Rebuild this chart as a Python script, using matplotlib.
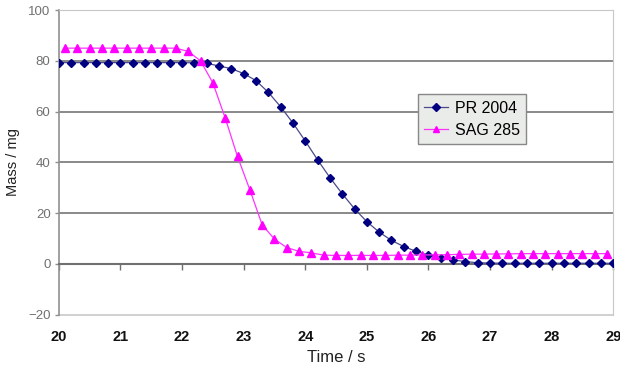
import numpy as np
import matplotlib.pyplot as plt

plt.rcParams['font.family'] = ['Liberation Sans', 'DejaVu Sans']

# PR 2004: every 0.2 s from 20.0 to 29.0
pr_time = np.round(np.arange(20.0, 29.01, 0.2), 1)
pr_mass = [79.3, 79.3, 79.3, 79.3, 79.3, 79.3, 79.3, 79.3, 79.3, 79.3,
           79.3, 79.2, 79.0, 78.0, 76.9, 75.0, 72.2, 67.6, 61.9, 55.5,
           48.4, 41.0, 34.0, 27.6, 21.7, 16.6, 12.5, 9.2, 6.8, 4.9,
           3.4, 2.4, 1.5, 0.9, 0.4, 0.3, 0.2, 0.2, 0.2, 0.2,
           0.2, 0.2, 0.2, 0.2, 0.2, 0.2]

# SAG 285: every 0.2 s from 20.1 to 28.9
sag_time = np.round(np.arange(20.1, 28.91, 0.2), 1)
sag_mass = [85.0, 85.0, 85.0, 85.0, 85.0, 85.0, 85.0, 85.0, 85.0, 85.0,
            83.7, 80.0, 71.3, 57.5, 42.3, 29.2, 15.4, 9.7, 6.4, 4.9,
            4.3, 3.4, 3.3, 3.3, 3.3, 3.3, 3.3, 3.4, 3.4, 3.5,
            3.5, 3.6, 3.7, 3.8, 3.8, 3.9, 3.9, 4.0, 4.0, 4.0,
            4.0, 4.0, 4.0, 4.0, 4.0]

fig = plt.figure(figsize=(6.2, 3.74), dpi=100)
ax = fig.add_axes([0.095, 0.159, 0.894, 0.814])

ax.set_xlim(20, 29)
ax.set_ylim(-20, 100)

# horizontal gridlines
for y in [20, 40, 60, 80]:
    ax.axhline(y, color='#808080', lw=1.3, zorder=1)
ax.axhline(-20, color='#c8c8c8', lw=1.2, zorder=1, clip_on=False)

ax.plot(pr_time, pr_mass, color='#4a4a8a', lw=0.9, marker='D', ms=4.5,
        mfc='#000080', mec='#000080', label='PR 2004', zorder=3)
ax.plot(sag_time, sag_mass, color='#ff33ff', lw=0.9, marker='^', ms=5.8,
        mfc='#ff00ff', mec='#ff00ff', label='SAG 285', zorder=3)

# spines
ax.spines['top'].set_color('#c8c8c8')
ax.spines['right'].set_color('#c8c8c8')
ax.spines['left'].set_color('#909090')
ax.spines['left'].set_linewidth(1.2)
ax.spines['bottom'].set_position(('data', 0))
ax.spines['bottom'].set_color('#707070')
ax.spines['bottom'].set_linewidth(1.5)

ax.set_xticks(range(20, 30))
ax.set_yticks(range(-20, 101, 20))
ax.tick_params(axis='x', length=4, width=1, color='#707070', pad=44,
               labelsize=10.5, labelcolor='#111111')
for lab in ax.get_xticklabels():
    lab.set_fontweight('bold')
ax.tick_params(axis='y', length=3, width=1, color='#909090', pad=3,
               labelsize=9.5, labelcolor='#707070')

ax.set_xlabel('Time / s', fontsize=12, color='#222222', labelpad=4)
ax.set_ylabel('Mass / mg', fontsize=10.5, color='#222222', labelpad=6)

leg = ax.legend(loc='upper left', bbox_to_anchor=(0.648, 0.724), fontsize=11.5,
                frameon=True, fancybox=False, handlelength=1.5,
                handletextpad=0.4, borderpad=0.4, labelspacing=0.45,
                borderaxespad=0, markerscale=0.8)
leg.get_frame().set_facecolor('#e9ece8')
leg.get_frame().set_edgecolor('#888888')
leg.get_frame().set_alpha(1)

fig.savefig('out.png', dpi=100, facecolor='white')
